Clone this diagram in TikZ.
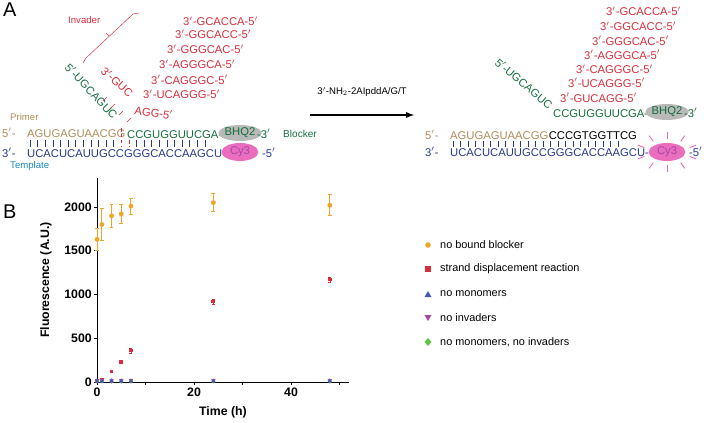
\documentclass[tikz,border=0pt]{standalone}
\usepackage{fontspec}
\setmainfont{Liberation Sans}
\usetikzlibrary{positioning,shapes.geometric,calc}
\definecolor{Tan}{RGB}{176,140,90}
\definecolor{Navy}{RGB}{40,55,140}
\definecolor{Leaf}{RGB}{20,110,60}
\definecolor{Rose}{RGB}{215,45,60}
\definecolor{Pinky}{RGB}{235,110,190}
\definecolor{Orng}{RGB}{240,165,40}
\definecolor{Blu}{RGB}{70,90,175}
\definecolor{Purp}{RGB}{165,70,165}
\definecolor{Grn}{RGB}{100,195,70}
\tikzset{seq/.style={
        inner sep=0,
        anchor=base west,
        font=\fontsize{9.6}{12}\selectfont
    },
    tag/.style={
        inner sep=0,
        font=\fontsize{8.2}{10}\selectfont
    },
    lgd/.style={
        inner sep=0,
        anchor=west,
        font=\fontsize{9.3}{11}\selectfont
    },
    axlab/.style={
        inner sep=0,
        font=\bfseries\fontsize{10.5}{12}\selectfont
    }}
\begin{document}
\begin{tikzpicture}
    [
    x=0.03cm,
    y=-0.03cm,
    bar/.style={
        draw=Navy,
        thin
    },
    dye/.style={
        ellipse,
        inner sep=0,
        minimum height=0.54cm,
        minimum width=1.1cm,
        font=\fontsize{9.6}{12}\selectfont
    }
    ]
    \useasboundingbox (0,0) rectangle (704,422);
    \node (pA)[anchor=north west,inner sep=0,font=\fontsize{17}{17}\selectfont] at (3,3) {A};
    \node (pB)[anchor=north west,inner sep=0,font=\fontsize{17}{17}\selectfont] at (3,205) {B};

    % left duplex
    \node (lp5)[seq,text=Tan] at (2,137) {5$'$-};
    \node (lprim)[seq,text=Tan] at (27,137) {AGUGAGUAACGG};
    \node (lblk)[seq,text=Leaf] at (127,138) {CCGUGGUUCGA-};
    \node (lbhq)[dye,fill=gray!55,text=Leaf,minimum height=0.48cm] at (240,133) {BHQ2};
    \node (lb3)[seq,text=Leaf] at (257,138) {-3$'$};
    \node (lbtag)[tag,text=Leaf,anchor=west,font=\fontsize{8.6}{10}\selectfont] at (283,134) {Blocker};
    \node (lt3)[seq,text=Navy] at (2,157) {3$'$-};
    \node (ltmp)[seq,text=Navy] at (27,157) {UCACUCAUUGCCGGGCACCAAGCU-};
    \node (lcy)[dye,fill=Pinky,text=Purp] at (240,152) {Cy3};
    \node (lt5)[seq,text=Navy] at (262,157) {-5$'$};
    \node (lptag)[tag,text=Tan,anchor=west] at (10,117) {Primer};
    \node (lttag)[tag,text=Navy!60!cyan,anchor=west] at (10,166) {Template};
    \foreach \i in {0,...,23}{
        \ifnum\i=12\relax\else\ifnum\i=13\relax\else
        \draw[bar] (30+\i*7.6,140) -- (30+\i*7.6,147);
        \fi\fi
    }
    \draw[Rose,densely dashed] (121,128) -- (121,147);
    \draw[Rose,densely dashed] (129,140) -- (129,147);

    % left invader
    \node (lgr)[seq,text=Leaf,rotate=-47] at (64,68) {5$'$-UGCAGUC};
    \node (linv)[seq,text=Rose,rotate=-42] at (100,72) {3$'$-GUC};
    \node (linv2)[seq,text=Rose,rotate=-8] at (134,114) {AGG-5$'$};
    \foreach \p in {(107,97),(115,104),(123,111),(131,118)}
        \draw[Rose,thin] \p -- ++(-4,4);
    \draw[Rose,thin] (83,63) -- (86,58) -- (133,14) -- (139,13);
    \draw[Rose,thin] (109,36) -- (106,33);
    \node (linvtag)[tag,text=Rose,anchor=west] at (68,20) {Invader};

    % left monomers
    \foreach \t/\x/\y in {GCACCA/183/26,GGCACC/175/39,GGGCAC/167/54,AGGGCA/159/69,CAGGGC/151/84,UCAGGG/143/99}
        \node[seq,text=Rose] at (\x,\y) {3$'$-\t-5$'$};

    % arrow
    \coordinate (aS) at (310,115);
    \coordinate (aE) at (414,115);
    \draw[line width=1.3pt,-latex] (aS) -- (aE);
    \node (areag)[inner sep=0,font=\fontsize{8.2}{10}\selectfont] at (362,92) {3$'$-NH$_2$-2AIpddA/G/T};

    % right duplex
    \node (rp5)[seq,text=Tan] at (425,139) {5$'$-};
    \node (rprim)[seq,text=Tan] at (450,139) {AGUGAGUAACGG};
    \node (rext)[seq,anchor=base west] at (rprim.base east) {CCCGTGGTTCG};
    \node (rt3)[seq,text=Navy] at (425,156) {3$'$-};
    \node (rtmp)[seq,text=Navy] at (450,156) {UCACUCAUUGCCGGGCACCAAGCU-};
    \foreach \i in {0,...,22}
        \draw[bar] (453+\i*7.5,141) -- (453+\i*7.5,147);
    \node (rcy)[dye,fill=Pinky,text=Purp] at (667,152) {Cy3};
    \node (rt5)[seq,text=Navy] at (689,156) {-5$'$};
    \foreach \a in {20,55,90,125,160,200,235,270,305,340}
        \draw[Pinky,thick] ($(rcy)+(\a:24 and 13)$) -- ($(rcy)+(\a:31 and 20)$);
    \node (rgr)[seq,text=Leaf,rotate=-40] at (494,64) {5$'$-UGCAGUC};
    \node (rblk)[seq,text=Leaf] at (553,117) {CCGUGGUUCGA-};
    \node (rbhq)[dye,fill=gray!55,text=Leaf,minimum height=0.48cm] at (667,112) {BHQ2};
    \node (rb3)[seq,text=Leaf] at (684,117) {-3$'$};
    \foreach \t/\x/\y in {GCACCA/606/16,GGCACC/600/31,GGGCAC/592/45,AGGGCA/584/59,CAGGGC/576/74,UCAGGG/568/87,GUCAGG/560/102}
        \node[seq,text=Rose] at (\x,\y) {3$'$-\t-5$'$};

    % plot
    \draw[thick] (97,178) -- (97,382) -- (349,382);
    \foreach \v in {0,500,1000,1500,2000}{
        \draw[thick] (97,382-0.0875*\v) -- ++(-3,0);
        \node[axlab,anchor=east] at (92,382-0.0875*\v) {\v};
    }
    \foreach \t in {0,10,...,50}
        \draw[thick] (97+4.85*\t,382) -- ++(0,3);
    \foreach \t in {0,20,40}
        \node[axlab,anchor=north] at (97+4.85*\t,388) {\t};
    \node (ylab)[axlab,rotate=90] at (46,280) {Fluorescence (A.U.)};
    \node (xlab)[axlab] at (223,412) {Time (h)};
    \begin{scope}[shift={(97,382)},xscale=4.85,yscale=-0.0875]
        \foreach \t/\v/\e in {0/1630/130,1/1800/180,3/1900/130,5/1920/110,7/2010/90,24/2050/100,48/2020/120}{
            \draw[Orng,thick] (\t,\v-\e) -- (\t,\v+\e);
            \draw[Orng,thick] (\t-0.4,\v-\e) -- (\t+0.4,\v-\e);
            \draw[Orng,thick] (\t-0.4,\v+\e) -- (\t+0.4,\v+\e);
            \fill[Orng] (\t,\v) circle[x radius=0.5,y radius=28];
        }
        \foreach \t/\v/\e in {0/5/5,1/30/10,3/120/10,5/230/20,7/360/30,24/920/30,48/1170/25}{
            \draw[Rose] (\t,\v-\e) -- (\t,\v+\e);
            \draw[Rose] (\t-0.3,\v-\e) -- (\t+0.3,\v-\e);
            \draw[Rose] (\t-0.3,\v+\e) -- (\t+0.3,\v+\e);
            \fill[Rose] (\t-0.4,\v-20) rectangle (\t+0.4,\v+20);
        }
        \foreach \t in {0,1,3,5,7,24,48}{
            \fill[Grn] (\t,10) +(0,-28) -- +(0.45,0) -- +(0,28) -- +(-0.45,0) -- cycle;
            \fill[Purp] (\t,10) +(-0.45,22) -- +(0.45,22) -- +(0,-22) -- cycle;
            \fill[Blu] (\t,14) +(-0.45,-22) -- +(0.45,-22) -- +(0,28) -- cycle;
        }
    \end{scope}

    % legend
    \fill[Orng] (428,245) circle (2.8);
    \node (l1)[lgd] at (440,245) {no bound blocker};
    \fill[Rose] (425.2,266.2) rectangle (430.8,271.8);
    \node (l2)[lgd] at (440,269) {strand displacement reaction};
    \fill[Blu] (424.5,297) -- (431.5,297) -- (428,291) -- cycle;
    \node (l3)[lgd] at (440,294) {no monomers};
    \fill[Purp] (424.5,315) -- (431.5,315) -- (428,321) -- cycle;
    \node (l4)[lgd] at (440,318) {no invaders};
    \fill[Grn] (428,338) -- (431.5,342) -- (428,346) -- (424.5,342) -- cycle;
    \node (l5)[lgd] at (440,342) {no monomers, no invaders};
\end{tikzpicture}
\end{document}
